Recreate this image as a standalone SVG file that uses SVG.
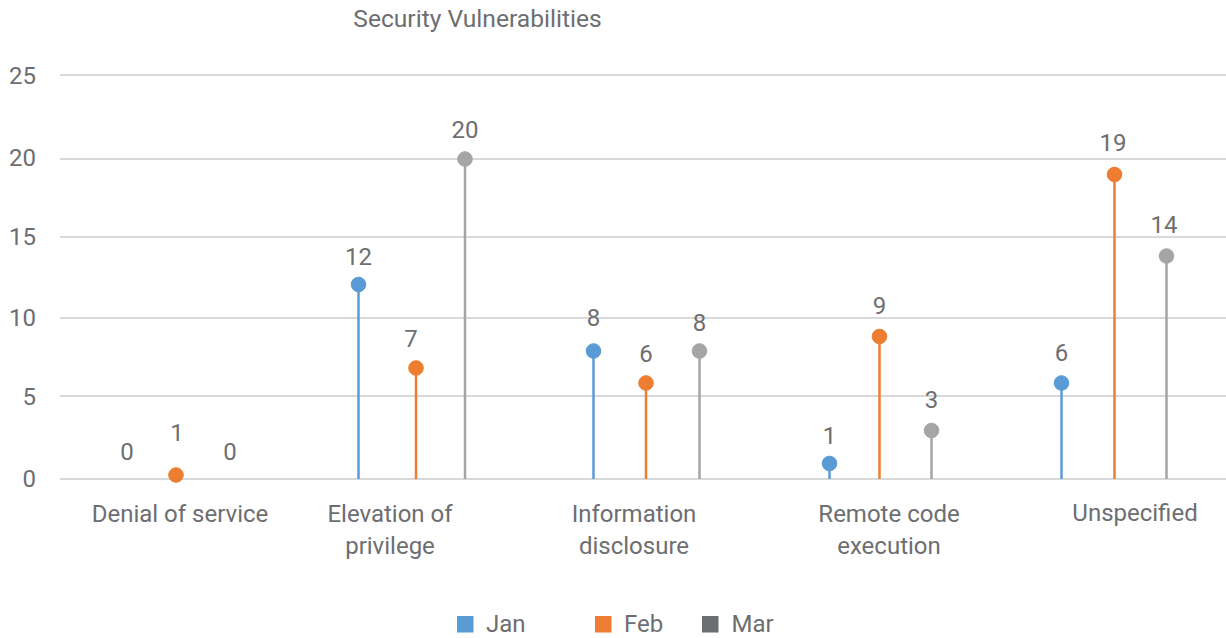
<svg xmlns="http://www.w3.org/2000/svg" width="1226" height="638" viewBox="0 0 1226 638">
<style>
text{font-family:Roboto,"Liberation Sans",sans-serif;font-size:24px;fill:#6d6e71}
.t{font-size:24.6px}
.c{text-anchor:middle}
.e{text-anchor:end}
.g{stroke:#d9d9d9;stroke-width:2}
.jan{stroke:#5b9bd5;fill:#5b9bd5}
.feb{stroke:#ed7d31;fill:#ed7d31}
.mar{stroke:#a5a5a5;fill:#a5a5a5}
line.s{stroke-width:2.5}
</style>
<rect width="1226" height="638" fill="#fff"/>
<text class="c t" x="477.5" y="27">Security Vulnerabilities</text>
<g id="grid">
<line class="g" x1="60" y1="75" x2="1226" y2="75"/>
<line class="g" x1="60" y1="159" x2="1226" y2="159"/>
<line class="g" x1="60" y1="237" x2="1226" y2="237"/>
<line class="g" x1="60" y1="318" x2="1226" y2="318"/>
<line class="g" x1="60" y1="396" x2="1226" y2="396"/>
<line class="g" x1="60" y1="479" x2="1226" y2="479"/>
</g>
<g id="yaxis">
<text class="e" x="36" y="84">25</text>
<text class="e" x="36" y="166">20</text>
<text class="e" x="36" y="245">15</text>
<text class="e" x="36" y="326">10</text>
<text class="e" x="36" y="405">5</text>
<text class="e" x="36" y="487">0</text>
</g>
<g id="xaxis">
<text class="c" x="180" y="522">Denial of service</text>
<text class="c" x="390" y="522">Elevation of</text>
<text class="c" x="390" y="554">privilege</text>
<text class="c" x="634" y="522">Information</text>
<text class="c" x="634" y="554">disclosure</text>
<text class="c" x="889" y="522">Remote code</text>
<text class="c" x="889" y="554">execution</text>
<text class="c" x="1135" y="521">Unspecified</text>
</g>
<g id="connectors">
<line class="s feb" x1="176" y1="475" x2="176" y2="479"/>
<line class="s jan" x1="358.5" y1="284.5" x2="358.5" y2="479"/>
<line class="s feb" x1="416" y1="368" x2="416" y2="479"/>
<line class="s mar" x1="465" y1="159" x2="465" y2="479"/>
<line class="s jan" x1="593.5" y1="351" x2="593.5" y2="479"/>
<line class="s feb" x1="646" y1="383" x2="646" y2="479"/>
<line class="s mar" x1="699.5" y1="351" x2="699.5" y2="479"/>
<line class="s jan" x1="829.5" y1="463.5" x2="829.5" y2="479"/>
<line class="s feb" x1="879.5" y1="336.5" x2="879.5" y2="479"/>
<line class="s mar" x1="931.5" y1="430.5" x2="931.5" y2="479"/>
<line class="s jan" x1="1061.5" y1="383" x2="1061.5" y2="479"/>
<line class="s feb" x1="1114.5" y1="174.5" x2="1114.5" y2="479"/>
<line class="s mar" x1="1166.5" y1="256" x2="1166.5" y2="479"/>
</g>
<g id="dos-jan"><text class="c" x="127" y="460">0</text></g>
<g id="dos-feb"><circle class="feb" cx="176" cy="475" r="7.3"/><text class="c" x="177" y="441">1</text></g>
<g id="dos-mar"><text class="c" x="230" y="460">0</text></g>
<g id="eop-jan"><circle class="jan" cx="358.5" cy="284.5" r="7.3"/><text class="c" x="358.5" y="265">12</text></g>
<g id="eop-feb"><circle class="feb" cx="416" cy="368" r="7.3"/><text class="c" x="411" y="347">7</text></g>
<g id="eop-mar"><circle class="mar" cx="465" cy="159" r="7.3"/><text class="c" x="465" y="138">20</text></g>
<g id="id-jan"><circle class="jan" cx="593.5" cy="351" r="7.3"/><text class="c" x="593.5" y="325.5">8</text></g>
<g id="id-feb"><circle class="feb" cx="646" cy="383" r="7.3"/><text class="c" x="646" y="361.5">6</text></g>
<g id="id-mar"><circle class="mar" cx="699.5" cy="351" r="7.3"/><text class="c" x="699.5" y="331">8</text></g>
<g id="rce-jan"><circle class="jan" cx="829.5" cy="463.5" r="7.3"/><text class="c" x="829.5" y="443.5">1</text></g>
<g id="rce-feb"><circle class="feb" cx="879.5" cy="336.5" r="7.3"/><text class="c" x="879.5" y="313.5">9</text></g>
<g id="rce-mar"><circle class="mar" cx="931.5" cy="430.5" r="7.3"/><text class="c" x="931.5" y="408">3</text></g>
<g id="un-jan"><circle class="jan" cx="1061.5" cy="383" r="7.3"/><text class="c" x="1061.5" y="361">6</text></g>
<g id="un-feb"><circle class="feb" cx="1114.5" cy="174.5" r="7.3"/><text class="c" x="1113" y="151">19</text></g>
<g id="un-mar"><circle class="mar" cx="1166.5" cy="256" r="7.3"/><text class="c" x="1164" y="232.5">14</text></g>
<g id="legend">
<rect x="457" y="616" width="16.5" height="16.5" fill="#5b9bd5"/>
<text x="486" y="631.5">Jan</text>
<rect x="595" y="616" width="16.5" height="16.5" fill="#ed7d31"/>
<text x="624" y="631.5">Feb</text>
<rect x="702" y="616" width="16.5" height="16.5" fill="#6d6e71"/>
<text x="731.5" y="631.5">Mar</text>
</g>
</svg>
